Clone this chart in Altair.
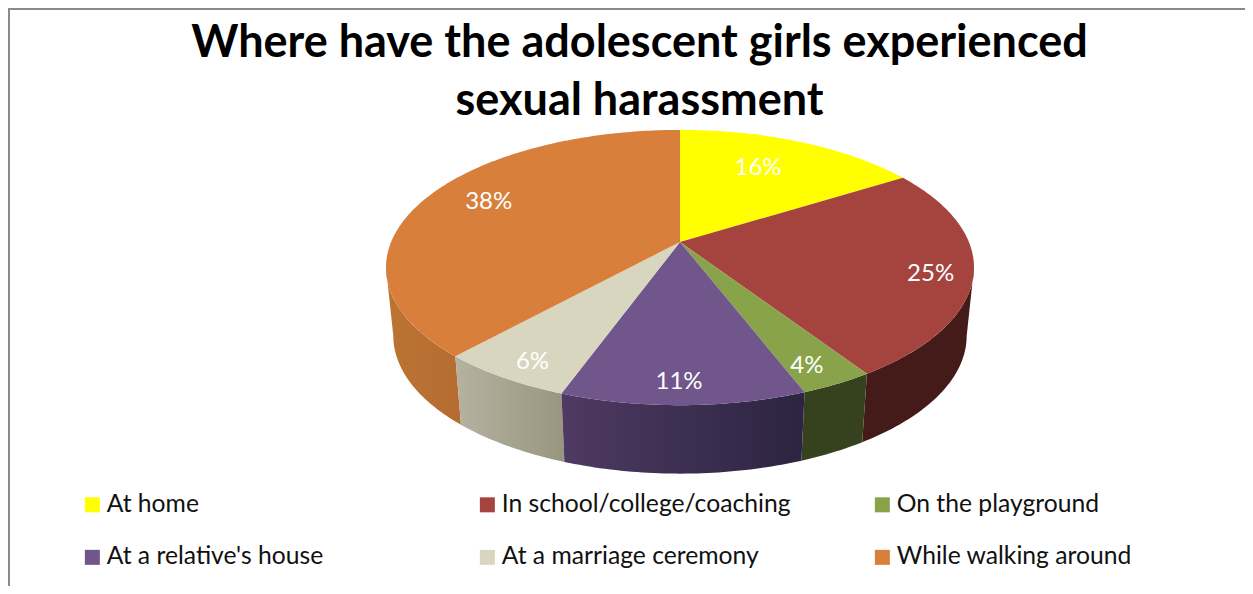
import math
import altair as alt

title_lines = ["Where have the adolescent girls experienced", "sexual harassment"]
labels = ["At home", "In school/college/coaching", "On the playground",
          "At a relative's house", "At a marriage ceremony", "While walking around"]
values = [16.1, 24.7, 3.4, 11.3, 6.2, 38.3]
value_text = ["16%", "25%", "4%", "11%", "6%", "38%"]
top_colors = ["#FFFF00", "#A5433F", "#88A34A", "#71568C", "#D9D6C0", "#D97F3C"]
wall_left = ["#FFFF00", "#441B18", "#36421D", "#4E3A63", "#B5B3A0", "#BC7434"]
wall_right = ["#FFFF00", "#441B18", "#36421D", "#2C2440", "#98967F", "#B56C30"]
label_shift = [-1.05, 0.55, 0.4, 0.2, -0.3, 1.25]
label_reach = [0.71, 0.86, 0.87, 0.87, 0.88, 0.78]

# pie perspective
NEAR = 0.1855
SQUASH = 0.46
DROP = 0.237
SHRINK_X = 0.975
STRETCH_Y = 1.0
FRONT_FROM, FRONT_TO = 28.0, 72.0  # part of the rim that faces the viewer


def top(pct, reach=1.0):
    a = pct / 100 * 2 * math.pi
    u, v = reach * math.sin(a), reach * math.cos(a)
    s = 1 / (1 + NEAR * v)
    return [u * s, SQUASH * v * s]


def bottom(pct):
    x, y = top(pct)
    return [x * SHRINK_X, y * STRETCH_Y - DROP]


def steps(a, b):
    n = max(2, int((b - a) * 4))
    return [a + (b - a) * i / n for i in range(n + 1)]


def feature(ring, label):
    return {"type": "Feature", "properties": {"label": label},
            "geometry": {"type": "Polygon", "coordinates": [ring + [ring[0]]]}}


starts = [sum(values[:i]) for i in range(len(values))]
ends = [sum(values[:i + 1]) for i in range(len(values))]

top_features = [
    feature([top(0, 0)] + [top(p) for p in steps(a, b)], lab)
    for a, b, lab in zip(starts, ends, labels)
]

proj = alt.Projection(type="identity", reflectY=True, scale=288.9, translate=[672, 234])
W, H = 1237, 578

layers = []
for i in [1, 5, 2, 4, 3]:
    ps = steps(max(starts[i], FRONT_FROM), min(ends[i], FRONT_TO))
    ring = [top(p) for p in ps] + [bottom(p) for p in reversed(ps)]
    grad = alt.Gradient(gradient="linear", x1=0, x2=1, y1=0, y2=0,
                        stops=[alt.GradientStop(offset=0, color=wall_left[i]),
                               alt.GradientStop(offset=1, color=wall_right[i])])
    layers.append(
        alt.Chart(alt.Data(values=[feature(ring, labels[i])]))
        .mark_geoshape(fill=grad, stroke=None)
        .project(**proj.to_dict())
    )

faces = (
    alt.Chart(alt.Data(values=top_features))
    .mark_geoshape(stroke=None)
    .encode(
        color=alt.Color(
            "properties.label:N",
            scale=alt.Scale(domain=labels, range=top_colors),
            sort=labels,
            legend=alt.Legend(
                title=None, orient="none", legendX=72, legendY=484,
                columns=3, direction="horizontal", gridAlign="all",
                symbolType="square", symbolSize=225, symbolStrokeWidth=0,
                labelFont="Lato", labelFontSize=24.7, labelColor="#111111",
                labelLimit=500, labelOffset=2, columnPadding=79, rowPadding=27,
            ),
        )
    )
    .project(**proj.to_dict())
)
layers.append(faces)

label_rows = []
for i, lab in enumerate(labels):
    x, y = top((starts[i] + ends[i]) / 2 + label_shift[i], label_reach[i])
    label_rows.append({"lon": x, "lat": y, "text": value_text[i]})

text = (
    alt.Chart(alt.Data(values=label_rows))
    .mark_text(font="Lato", fontSize=24, color="white", baseline="middle", align="center", dy=2)
    .encode(longitude="lon:Q", latitude="lat:Q", text="text:N")
    .project(**proj.to_dict())
)
layers.append(text)

frame_left = alt.Chart(alt.Data(values=[{"a": 0}])).mark_rule(color="#8a8a8a", strokeWidth=2).encode(
    x=alt.value(1), y=alt.value(0), y2=alt.value(H))
frame_top = alt.Chart(alt.Data(values=[{"a": 0}])).mark_rule(color="#8a8a8a", strokeWidth=2).encode(
    y=alt.value(1), x=alt.value(0), x2=alt.value(W))
layers += [frame_left, frame_top]

chart = (
    alt.layer(*layers)
    .properties(
        width=W, height=H, padding=0, autosize=alt.AutoSizeParams(type="none"),
        title=alt.TitleParams(
            text=title_lines, font="Lato", fontSize=45, fontWeight="bold", color="black",
            anchor="middle", lineHeight=58, dx=13, dy=166, baseline="bottom",
        ),
    )
    .configure_view(stroke=None)
)

chart.save("out.html", embed_options={"renderer": "svg", "actions": False})
